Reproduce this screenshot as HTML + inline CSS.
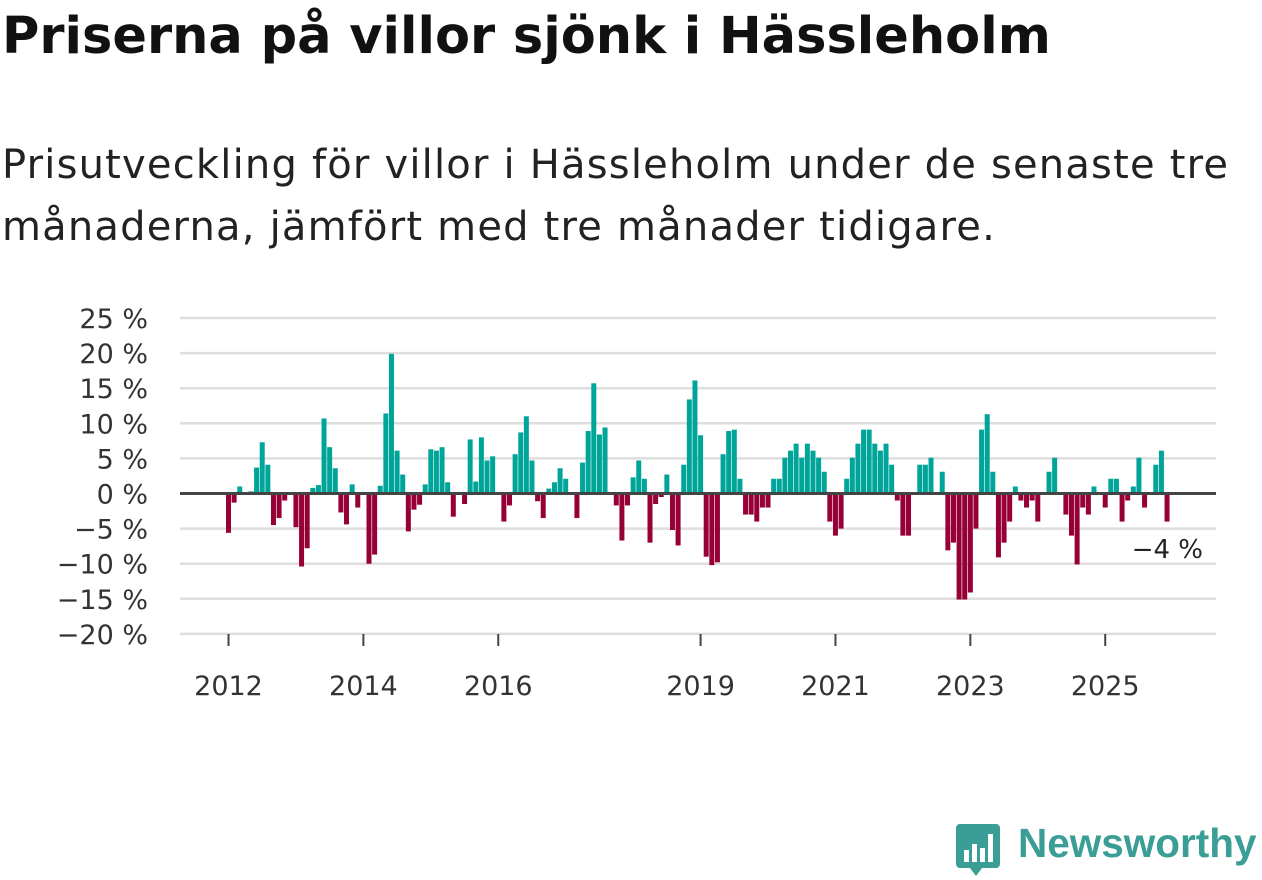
<!DOCTYPE html>
<html><head><meta charset="utf-8">
<style>
body{margin:0;width:1262px;height:879px;background:#fff;overflow:hidden;font-family:"DejaVu Sans","Liberation Sans",sans-serif;color:#111}
h1{position:absolute;left:2px;top:7px;margin:0;font-size:51px;font-weight:bold;white-space:nowrap;color:#111}
p{position:absolute;left:2px;top:134px;margin:0;font-size:40px;letter-spacing:1.2px;line-height:62px;color:#222;white-space:nowrap}
svg{position:absolute;left:0;top:0}
</style></head><body>
<h1>Priserna på villor sjönk i Hässleholm</h1>
<p>Prisutveckling för villor i Hässleholm under de senaste tre<br>månaderna, jämfört med tre månader tidigare.</p>
<svg id="chart" width="1262" height="879"></svg>
<div style="position:absolute;left:952px;top:820px;width:310px;height:60px">
<svg width="50" height="60" style="left:0;top:0"><path d="M4 4h40a4 4 0 0 1 4 4v36a4 4 0 0 1-4 4H30l-6 8-6-8H8a4 4 0 0 1-4-4V8a4 4 0 0 1 4-4z" fill="#3a9e96"/><rect x="12" y="30" width="5" height="12" fill="#fff"/><rect x="20" y="24" width="5" height="18" fill="#fff"/><rect x="28" y="28" width="5" height="14" fill="#fff"/><rect x="36" y="14" width="5" height="28" fill="#fff"/></svg>
<span style="position:absolute;left:66px;top:0px;font-size:40.5px;font-weight:bold;color:#3a9e96;font-family:'Liberation Sans',sans-serif">Newsworthy</span>
</div>
<script>
const years=[2012,2013,2014,2015,2016,2017,2018,2019,2020,2021,2022,2023,2024,2025];
const values=[
-5.6,-1.3,1.0,0,0.3,3.7,7.3,4.1,-4.5,-3.5,-1.0,0,
-4.8,-10.4,-7.8,0.8,1.2,10.7,6.6,3.6,-2.7,-4.4,1.3,-2.0,
0,-10.0,-8.7,1.1,11.4,19.9,6.1,2.7,-5.4,-2.3,-1.6,1.3,
6.3,6.1,6.6,1.6,-3.3,0,-1.5,7.7,1.7,8.0,4.7,5.3,
0,-4.0,-1.7,5.6,8.7,11.0,4.7,-1.1,-3.5,0.7,1.6,3.6,
2.1,0,-3.5,4.4,8.9,15.7,8.4,9.4,0,-1.7,-6.7,-1.7,
2.3,4.7,2.1,-7.0,-1.5,-0.5,2.7,-5.2,-7.4,4.1,13.4,16.1,
8.3,-9.0,-10.2,-9.8,5.6,8.9,9.1,2.1,-3.0,-3.0,-4.0,-2.0,
-2.0,2.1,2.1,5.1,6.1,7.1,5.1,7.1,6.1,5.1,3.1,-4.0,
-6.0,-5.0,2.1,5.1,7.1,9.1,9.1,7.1,6.1,7.1,4.1,-1.0,
-6.0,-6.0,0,4.1,4.1,5.1,0,3.1,-8.1,-7.0,-15.1,-15.1,
-14.1,-5.0,9.1,11.3,3.1,-9.1,-7.0,-4.0,1.0,-1.0,-2.0,-1.0,
-4.0,0,3.1,5.1,0,-3.0,-6.0,-10.1,-2.0,-3.0,1.0,0,
-2.0,2.1,2.1,-4.0,-1.0,1.0,5.1,-2.0,0,4.1,6.1,-4.0];
const yTicks=[25,20,15,10,5,0,-5,-10,-15,-20];
const xTickYears=[2012,2014,2016,2019,2021,2023,2025];
const lastLabel="\u22124 %";

const NS="http://www.w3.org/2000/svg";
const svg=document.getElementById('chart');
const FF='DejaVu Sans, Liberation Sans, sans-serif';
const y=v=>493.5-(v)*7.02;
const x=i=>228.5+i*5.62;
function mk(t,a){const e=document.createElementNS(NS,t);for(const k in a)e.setAttribute(k,a[k]);svg.appendChild(e);return e;}
yTicks.forEach(t=>{
  if(t!==0){const g=mk('line',{x1:180,x2:1216,y1:y(t),y2:y(t),stroke:'#dedede','stroke-width':2.5});
  
  }
  const l=mk('text',{x:148,y:y(t)+10,'text-anchor':'end','font-size':27,fill:'#333','font-family':FF});
  l.textContent=(t<0?'\u2212'+(-t):t)+' %';
  
  
});
values.forEach((v,i)=>{
  if(v===0)return;
  const r=mk('rect',{x:x(i)-2.5,width:5,y:Math.min(y(v),y(0)),height:Math.abs(y(v)-y(0)),fill:v>0?'#00a59a':'#970036'});
  
  
});
const z=mk('line',{x1:180,x2:1216,y1:y(0),y2:y(0),stroke:'#444','stroke-width':3});


xTickYears.forEach(yr=>{
  const i=(yr-years[0])*12;
  const tk=mk('line',{x1:x(i),x2:x(i),y1:634,y2:646,stroke:'#444','stroke-width':2});
  
  
  const l=mk('text',{x:x(i),y:695,'text-anchor':'middle','font-size':27,fill:'#333','font-family':FF});
  l.textContent=yr;
  
  
});
const ll=mk('text',{x:1203,y:558,'text-anchor':'end','font-size':26,fill:'#222',stroke:'#fff','stroke-width':6,'paint-order':'stroke','font-family':FF});
ll.textContent=lastLabel;


</script>
</body></html>
